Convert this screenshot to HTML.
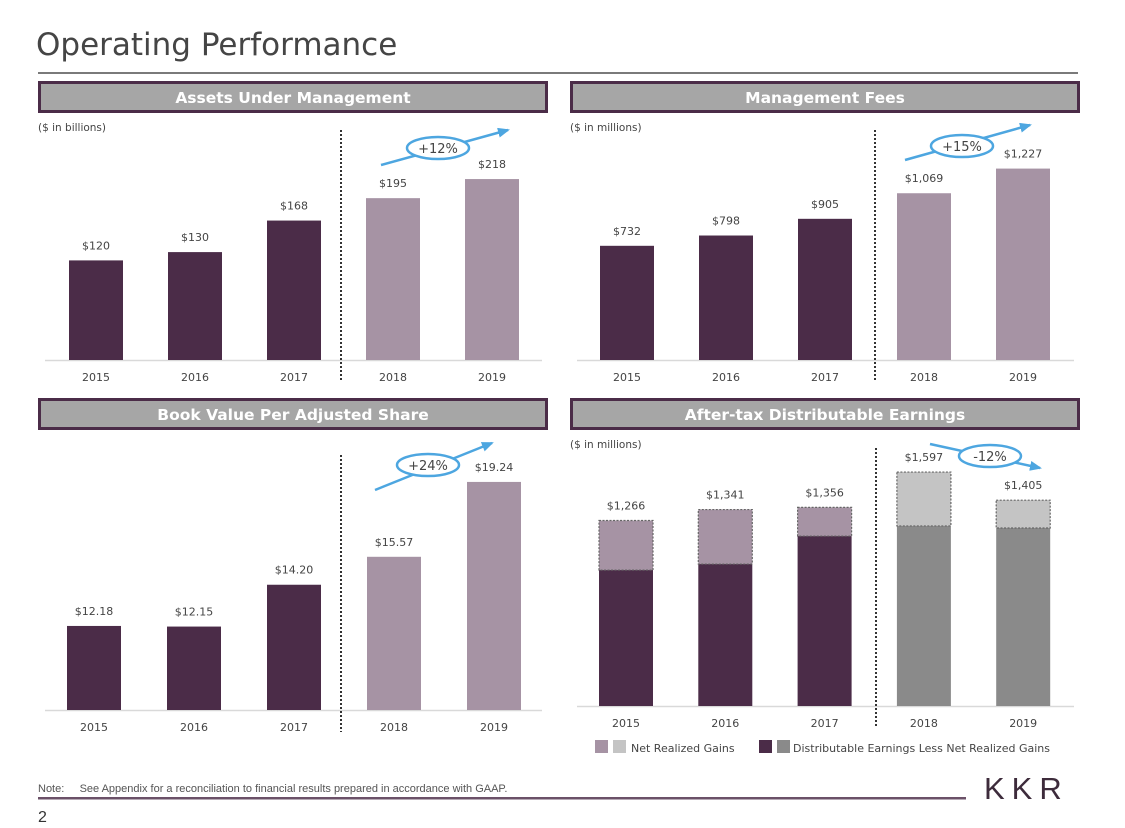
<!DOCTYPE html>
<html><head><meta charset="utf-8"><style>
body{margin:0;background:#fff;width:1125px;height:828px;overflow:hidden;font-family:"DejaVu Sans","Liberation Sans",sans-serif}
svg{display:block}
</style></head><body>
<svg id="s" width="1125" height="828" xmlns="http://www.w3.org/2000/svg">
<defs><marker id="ah" markerUnits="userSpaceOnUse" markerWidth="12" markerHeight="10" refX="10" refY="5" orient="auto"><path d="M0,0 L12,5 L0,10 z" fill="#4da6e0"/></marker></defs>
<text x="36" y="55" font-size="31" fill="#454545" font-family="DejaVu Sans, sans-serif">Operating Performance</text>
<rect x="38" y="72" width="1040" height="2" fill="#7a7a7a"/>
<g id="g"></g>
<text x="38" y="792" font-size="11" fill="#555" font-family="Liberation Sans Narrow, Liberation Sans, sans-serif">Note:&#160;&#160;&#160;&#160;&#160;See Appendix for a reconciliation to financial results prepared in accordance with GAAP.</text>
<rect x="38" y="797" width="928" height="2.5" fill="#6b5168"/>
<text x="984" y="799" font-size="31" fill="#3d2b3b" letter-spacing="7" font-family="Liberation Sans, sans-serif">KKR</text>
<text x="38" y="822" font-size="16" fill="#333" font-family="Liberation Sans, sans-serif">2</text>
</svg>
<script>
const years=["2015","2016","2017","2018","2019"];
const aumVals=[120,130,168,195,218];
const aumLabels=["$120","$130","$168","$195","$218"];
const feeVals=[732,798,905,1069,1227];
const feeLabels=["$732","$798","$905","$1,069","$1,227"];
const bvVals=[12.18,12.15,14.20,15.57,19.24];
const bvLabels=["$12.18","$12.15","$14.20","$15.57","$19.24"];
const deTotals=[1266,1341,1356,1597,1405];
const deBase=[928,969,1160,1229,1215];
const deLabels=["$1,266","$1,341","$1,356","$1,597","$1,405"];
const NS="http://www.w3.org/2000/svg";
const G=document.getElementById('g');
function mk(tag,at,parent){const e=document.createElementNS(NS,tag);for(const k in at)e.setAttribute(k,at[k]);(parent||G).appendChild(e);return e;}
function txt(x,y,s,size,fill,anchor,weight){const t=mk('text',{x:x,y:y,'font-size':size,fill:fill,'text-anchor':anchor||'middle','font-weight':weight||'normal'});t.textContent=s;return t;}
const DARK="#4b2c48",LIGHT="#a693a4",GRAY="#8a8a8a",LGRAY="#c4c4c4";
function header(x,y,w,label,name){
 const r=mk('rect',{x:x+1.5,y:y+1.5,width:w-3,height:29,fill:'#a6a6a6',stroke:'#4b2c48','stroke-width':3});
 
 const t=txt(x+w/2,y+22,label,15.5,'#fff','middle','bold');
 
}
function panel(o){
 header(o.hx,o.hy,510,o.title,o.name);
 if(o.unit){const u=txt(o.hx,o.hy+50,o.unit,10.5,'#444','start');}
 const ax=mk('line',{x1:o.ax0,x2:o.ax1,y1:o.base+0.5,y2:o.base+0.5,stroke:'#d9d9d9','stroke-width':1.5});
 
 const dv=mk('line',{x1:o.div,x2:o.div,y1:o.divTop,y2:o.base+22,stroke:'#333','stroke-width':2,'stroke-dasharray':'2,2'});
 
 const yv=v=>o.base-o.k*(v-o.min);
 years.forEach((yr,i)=>{
  const cx=o.x0+i*o.step;
  if(o.base2){
   const tb=yv(o.base2[i]),tt=yv(o.vals[i]);
   const b=mk('rect',{x:cx-27,y:tb,width:54,height:o.base-tb,fill:i<3?DARK:GRAY});
   
   const g=mk('rect',{x:cx-27,y:tt,width:54,height:tb-tt,fill:i<3?LIGHT:LGRAY,stroke:'#666','stroke-width':1.2,'stroke-dasharray':'2,1.5'});
   
  }else{
   const t=yv(o.vals[i]);
   const b=mk('rect',{x:cx-27,y:t,width:54,height:o.base-t,fill:i<3?DARK:LIGHT});
   
  }
  const l=txt(cx,yv(o.vals[i])-11,o.labels[i],11,'#444');
  
  const y=txt(cx,o.base+21,yr,11,'#444');
  
 });
 const a=o.arrow;
 const ln=mk('line',{x1:a[0],y1:a[1],x2:a[2],y2:a[3],stroke:'#4da6e0','stroke-width':2.5,'marker-end':'url(#ah)'});
 
 const el=mk('ellipse',{cx:a[4],cy:a[5],rx:31,ry:11,fill:'#fff',stroke:'#4da6e0','stroke-width':2.5});
 
 const gt=txt(a[4],a[5]+5,o.pct,13,'#444');
 
}
panel({name:'aum',title:'Assets Under Management',unit:'($ in billions)',hx:38,hy:81,ax0:45,ax1:542,base:360,x0:96,step:99,k:0.83,min:0,vals:aumVals,labels:aumLabels,div:341,divTop:130,arrow:[381,165,508,130,438,148],pct:'+12%'});
panel({name:'fees',title:'Management Fees',unit:'($ in millions)',hx:570,hy:81,ax0:577,ax1:1074,base:360,x0:627,step:99,k:0.156,min:0,vals:feeVals,labels:feeLabels,div:875,divTop:130,arrow:[905,160,1030,125,962,146],pct:'+15%'});
panel({name:'bvps',title:'Book Value Per Adjusted Share',unit:null,hx:38,hy:398,ax0:45,ax1:542,base:710,x0:94,step:100,k:20.4,min:8.06,vals:bvVals,labels:bvLabels,div:341,divTop:455,arrow:[375,490,492,443,428,465],pct:'+24%'});
panel({name:'de',title:'After-tax Distributable Earnings',unit:'($ in millions)',hx:570,hy:398,ax0:577,ax1:1074,base:706,x0:626,step:99.3,k:0.1465,min:0,vals:deTotals,base2:deBase,labels:deLabels,div:876,divTop:448,arrow:[930,444,1040,468,990,456],pct:'-12%'});
[[595,LIGHT],[613,LGRAY],[759,DARK],[777,GRAY]].forEach((p,i)=>{
 const r=mk('rect',{x:p[0],y:740,width:13,height:13,fill:p[1]});
 
});
const l1=txt(631,752,'Net Realized Gains',11,'#444','start');

const l2=txt(793,752,'Distributable Earnings Less Net Realized Gains',11,'#444','start');

</script>
</body></html>
